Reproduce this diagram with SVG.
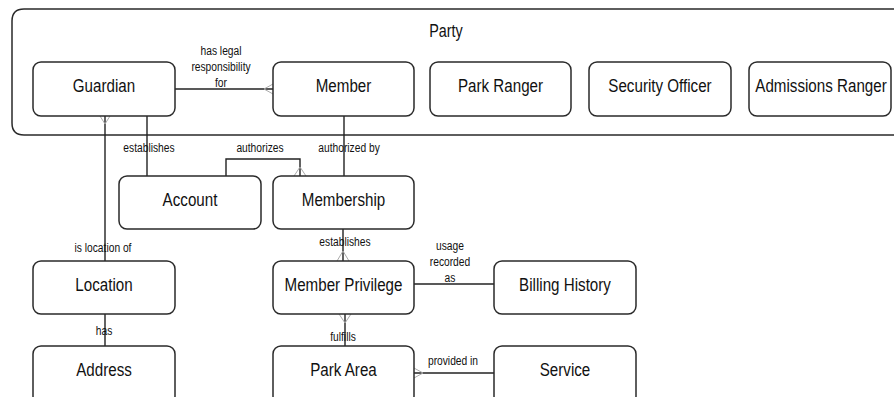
<svg xmlns="http://www.w3.org/2000/svg" width="894" height="397" viewBox="0 0 894 397">
  <style>
    .box { fill: #fff; stroke: #2a2a2a; stroke-width: 1.5; }
    .party { fill: none; stroke: #2a2a2a; stroke-width: 1.5; }
    .lbl { font-family: "Liberation Sans", Arial, sans-serif; font-size: 18.5px; fill: #111; text-anchor: middle; }
    .ptitle { font-family: "Liberation Sans", Arial, sans-serif; font-size: 17.5px; fill: #111; text-anchor: middle; }
    .rel { font-family: "Liberation Sans", Arial, sans-serif; font-size: 12.5px; fill: #111; text-anchor: middle; }
    .ln { fill: none; stroke: #222; stroke-width: 1.4; }
    .cf { fill: none; stroke: #aaa; stroke-width: 1; }
  </style>
  <rect width="894" height="397" fill="#fff"/>
  <g id="party">
    <path class="party" d="M 906 9 L 24 9 Q 12 9 12 21 L 12 123 Q 12 135 24 135 L 906 135"/>
    <text class="ptitle" transform="translate(446 37) scale(0.82 1)">Party</text>
  </g>
  <g id="connectors">
    <path class="ln" d="M 175 89 L 273 89"/>
    <path class="cf" d="M 273 84 L 264 89 L 273 94"/>
    <path class="ln" d="M 105 116 L 105 261"/>
    <path class="cf" d="M 100 116 L 105 124 L 110 116"/>
    <path class="ln" d="M 147 116 L 147 176"/>
    <path class="ln" d="M 344 116 L 344 176"/>
    <path class="ln" d="M 226 176 L 226 159 L 300 159 L 300 176"/>
    <path class="cf" d="M 294 176 L 300 167 L 306 176"/>
    <path class="ln" d="M 343 229 L 343 261"/>
    <path class="cf" d="M 337 261 L 343 251 L 349 261"/>
    <path class="ln" d="M 345 314 L 345 346"/>
    <path class="cf" d="M 339 314 L 345 323 L 351 314"/>
    <path class="ln" d="M 414 284 L 494 284"/>
    <path class="ln" d="M 414 373 L 494 373"/>
    <path class="cf" d="M 414 368 L 423 373 L 414 378"/>
    <path class="ln" d="M 105 314 L 105 346"/>
    <text class="rel" transform="translate(221 55) scale(0.82 1)">has legal</text>
    <text class="rel" transform="translate(221 71) scale(0.82 1)">responsibility</text>
    <text class="rel" transform="translate(221 86.5) scale(0.82 1)">for</text>
    <text class="rel" transform="translate(149 152) scale(0.82 1)">establishes</text>
    <text class="rel" transform="translate(260 152) scale(0.82 1)">authorizes</text>
    <text class="rel" transform="translate(349 152) scale(0.82 1)">authorized by</text>
    <text class="rel" transform="translate(103 252) scale(0.82 1)">is location of</text>
    <text class="rel" transform="translate(345 246) scale(0.82 1)">establishes</text>
    <text class="rel" transform="translate(450 250) scale(0.82 1)">usage</text>
    <text class="rel" transform="translate(450 266) scale(0.82 1)">recorded</text>
    <text class="rel" transform="translate(450 282) scale(0.82 1)">as</text>
    <text class="rel" transform="translate(104 335) scale(0.82 1)">has</text>
    <text class="rel" transform="translate(343 341) scale(0.82 1)">fulfills</text>
    <text class="rel" transform="translate(453 365) scale(0.82 1)">provided in</text>
  </g>
  <g id="guardian"><rect class="box" x="33" y="62" width="142" height="54" rx="8"/><text class="lbl" transform="translate(104 92) scale(0.82 1)">Guardian</text></g>
  <g id="member"><rect class="box" x="273" y="62" width="141" height="54" rx="8"/><text class="lbl" transform="translate(343.5 92) scale(0.82 1)">Member</text></g>
  <g id="park-ranger"><rect class="box" x="430" y="62" width="141" height="54" rx="8"/><text class="lbl" transform="translate(500.5 92) scale(0.82 1)">Park Ranger</text></g>
  <g id="security-officer"><rect class="box" x="589" y="62" width="142" height="54" rx="8"/><text class="lbl" transform="translate(660 92) scale(0.82 1)">Security Officer</text></g>
  <g id="admissions-ranger"><rect class="box" x="749" y="62" width="142" height="54" rx="8"/><text class="lbl" transform="translate(821 92) scale(0.82 1)">Admissions Ranger</text></g>
  <g id="account"><rect class="box" x="119" y="176" width="142" height="53" rx="8"/><text class="lbl" transform="translate(190 206) scale(0.82 1)">Account</text></g>
  <g id="membership"><rect class="box" x="273" y="176" width="141" height="53" rx="8"/><text class="lbl" transform="translate(343.5 206) scale(0.82 1)">Membership</text></g>
  <g id="location"><rect class="box" x="33" y="261" width="142" height="53" rx="8"/><text class="lbl" transform="translate(104 291) scale(0.82 1)">Location</text></g>
  <g id="member-privilege"><rect class="box" x="273" y="261" width="141" height="53" rx="8"/><text class="lbl" transform="translate(343.5 291) scale(0.82 1)">Member Privilege</text></g>
  <g id="billing-history"><rect class="box" x="494" y="261" width="142" height="53" rx="8"/><text class="lbl" transform="translate(565 291) scale(0.82 1)">Billing History</text></g>
  <g id="address"><rect class="box" x="33" y="346" width="142" height="58" rx="8"/><text class="lbl" transform="translate(104 376) scale(0.82 1)">Address</text></g>
  <g id="park-area"><rect class="box" x="273" y="346" width="141" height="58" rx="8"/><text class="lbl" transform="translate(343.5 376) scale(0.82 1)">Park Area</text></g>
  <g id="service"><rect class="box" x="494" y="346" width="142" height="58" rx="8"/><text class="lbl" transform="translate(565 376) scale(0.82 1)">Service</text></g>
</svg>
